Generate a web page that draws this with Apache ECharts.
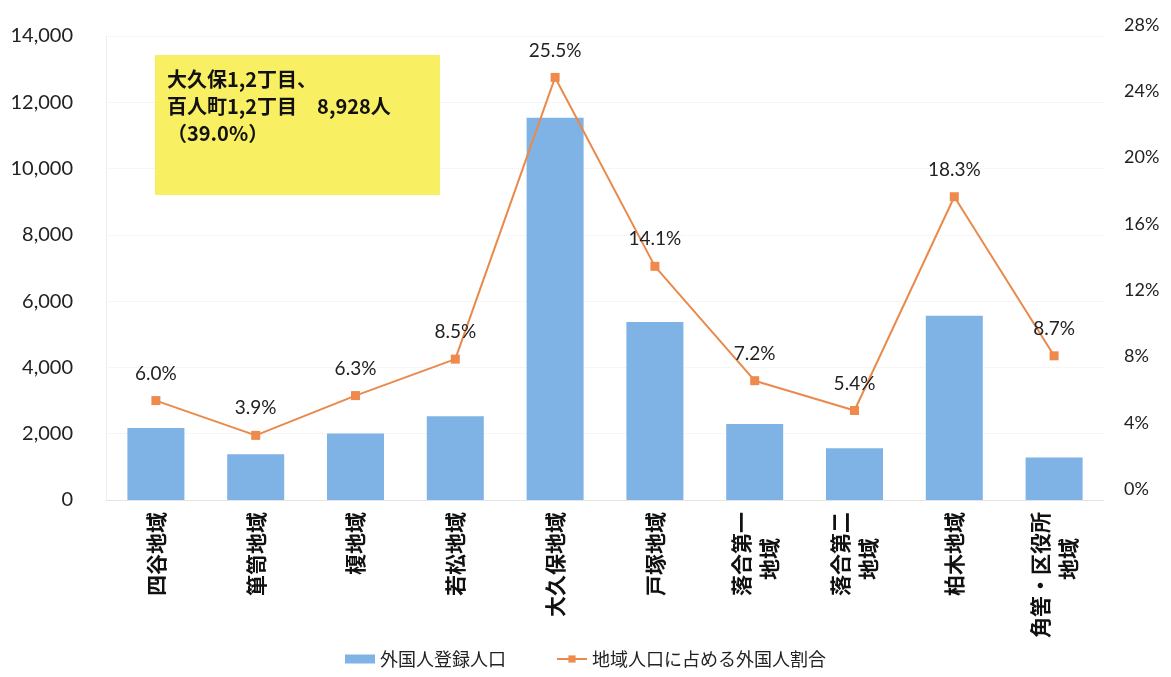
<!DOCTYPE html>
<html>
<head>
<meta charset="utf-8">
<script src="https://cdn.jsdelivr.net/npm/echarts@6/dist/echarts.min.js"></script>
<style>
  html, body { margin: 0; padding: 0; background: #fff; }
  #chart { width: 1171px; height: 677px; }
</style>
</head>
<body>
<div id="chart"></div>
<script>
const categories = ['四谷地域', '箪笥地域', '榎地域', '若松地域', '大久保地域', '戸塚地域', '落合第一\n地域', '落合第二\n地域', '柏木地域', '角筈・区役所\n地域'];
const population = [2170, 1380, 2010, 2530, 11530, 5370, 2290, 1560, 5560, 1280];
const ratio = [6.0, 3.9, 6.3, 8.5, 25.5, 14.1, 7.2, 5.4, 18.3, 8.7];
const leftTicks = [0, 14000, 2000];
const rightTicks = [0, 28, 4];
const seriesNames = ['外国人登録人口', '地域人口に占める外国人割合'];
const noteText = '大久保1,2丁目、\n百人町1,2丁目　8,928人\n（39.0%）';

const numFont = 'Lato, "Open Sans", sans-serif';
const jpFont = '"Noto Sans CJK JP", sans-serif';
const catStyle = { fontFamily: jpFont, fontSize: 21, fontWeight: 'bold', color: '#111', lineHeight: 28 };

const chart = echarts.init(document.getElementById('chart'));

chart.setOption({
    backgroundColor: '#fff',
    animation: false,
    grid: {
        left: 106,
        right: 67,
        top: 36,
        bottom: 177,
    },
    legend: {
        bottom: 4,
        left: 'center',
        itemGap: 50,
        itemWidth: 30,
        itemHeight: 9,
        textStyle: { fontFamily: jpFont, fontSize: 18, color: '#222' },
        data: [
            { name: seriesNames[0], icon: 'rect' },
            { name: seriesNames[1] },
        ],
    },
    xAxis: {
        type: 'category',
        data: categories,
        axisTick: { show: false },
        axisLine: { lineStyle: { color: '#e4e4e4' } },
        axisLabel: {
            rotate: 90,
            margin: 12,
            interval: 0,
            // second line sits a bit lower than the first, like the original
            formatter: (value) => {
                const lines = value.split('\n');
                if (lines.length < 2) return '{a|' + value + '}';
                return '{a|' + lines[0] + '}\n{a|' + lines[1] + '}{s|}';
            },
            rich: {
                a: catStyle,
                s: { width: 26 },
            },
        },
    },
    yAxis: [
        {
            type: 'value',
            min: leftTicks[0],
            max: leftTicks[1],
            interval: leftTicks[2],
            axisLine: { show: true, lineStyle: { color: '#eeeeee' } },
            axisTick: { show: false },
            splitLine: { lineStyle: { color: '#ededed', type: 'dotted' } },
            axisLabel: {
                margin: 33,
                color: '#222',
                fontFamily: numFont,
                fontSize: 20,
                formatter: (v) => v.toLocaleString('en-US'),
            },
        },
        {
            type: 'value',
            min: rightTicks[0],
            max: rightTicks[1],
            interval: rightTicks[2],
            axisLine: { show: false },
            axisTick: { show: false },
            splitLine: { show: false },
            axisLabel: {
                margin: 20,
                color: '#222',
                fontFamily: numFont,
                fontSize: 18,
                verticalAlign: 'bottom',
                lineHeight: 22,
                formatter: '{value}%',
            },
        },
    ],
    series: [
        {
            name: seriesNames[0],
            type: 'bar',
            data: population,
            barWidth: 57,
            itemStyle: { color: '#7fb2e5' },
        },
        {
            name: seriesNames[1],
            type: 'line',
            yAxisIndex: 1,
            data: ratio,
            symbol: 'rect',
            symbolSize: 9,
            lineStyle: { color: '#e98a4c', width: 2 },
            itemStyle: { color: '#ef8a4c' },
            label: {
                show: true,
                position: 'top',
                distance: 13,
                color: '#222',
                fontFamily: numFont,
                fontSize: 19,
                formatter: (p) => p.value.toFixed(1) + '%',
            },
        },
    ],
    graphic: [
        {
            type: 'group',
            left: 155,
            top: 55,
            z: 100,
            children: [
                {
                    type: 'rect',
                    z: 100,
                    shape: { x: 0, y: 0, width: 285, height: 140 },
                    style: { fill: '#f8ef62' },
                },
                {
                    type: 'text',
                    z: 101,
                    x: 12,
                    y: 11,
                    style: {
                        text: noteText,
                        fill: '#111',
                        font: 'bold 20px "Noto Sans CJK JP", sans-serif',
                        lineHeight: 27,
                    },
                },
            ],
        },
    ],
});
</script>
</body>
</html>
